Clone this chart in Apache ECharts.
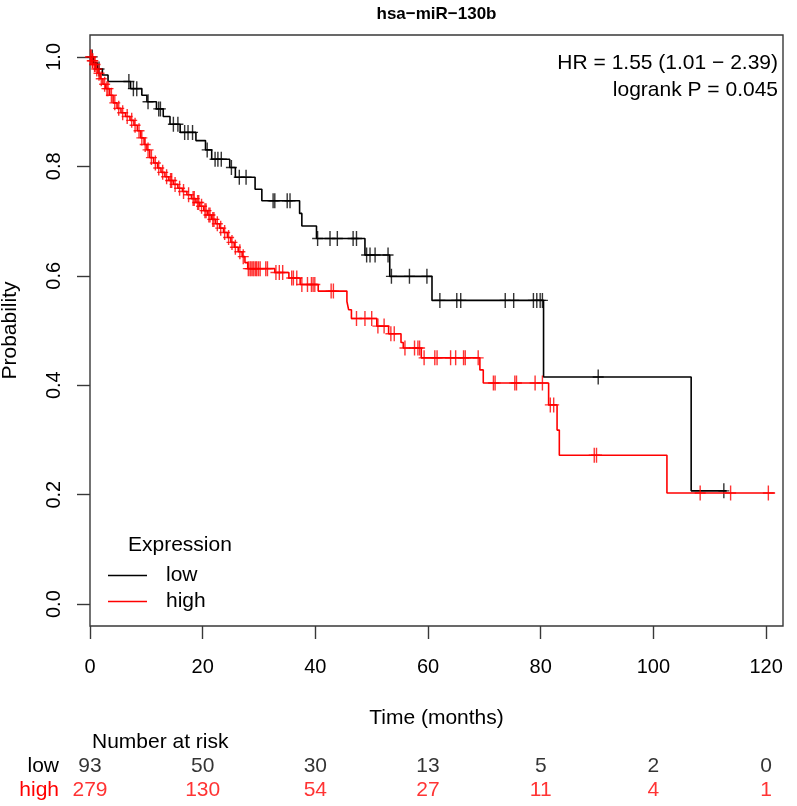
<!DOCTYPE html>
<html>
<head>
<meta charset="utf-8">
<script src="https://cdn.jsdelivr.net/npm/echarts@6/dist/echarts.min.js"></script>
<style>html,body{margin:0;padding:0;background:#fff;}#c{width:797px;height:806px;}</style>
</head>
<body>
<div id="c"></div>
<script>
// ---- data ----
const lowTimes = [0,0.6,1.3,2.2,3.2,7.2,9.2,10.1,11.8,13.0,14.2,16.0,18.8,20.5,21.6,24.8,25.8,29.3,30.5,37.2,37.6,40.2,48.8,53.2,60.7,80.5,106.7,113.0];
const lowSurv  = [1,0.989,0.978,0.967,0.955,0.942,0.930,0.918,0.905,0.891,0.877,0.862,0.847,0.830,0.813,0.798,0.780,0.758,0.737,0.714,0.691,0.668,0.638,0.599,0.555,0.415,0.207,0.207];
const lowCensorTimes = [0.4,1.6,6.9,7.7,8.3,10.3,12.2,12.5,14.8,15.6,16.8,17.4,18.2,20.8,22.2,22.7,23.3,25.1,26.5,27.7,32.5,32.8,35.0,35.5,40.4,42.6,43.9,46.7,47.3,49.1,49.7,50.6,52.9,53.5,56.7,59.8,62.1,65.1,65.8,73.7,75.2,78.7,79.3,79.9,80.3,90.2,112.5];

const highTimes = [0,0.3,0.6,1.0,1.4,1.8,2.3,2.8,3.5,4.1,4.8,5.5,6.3,7.1,7.8,8.4,9.0,9.6,10.1,10.6,11.3,12.0,12.6,13.3,14.0,14.8,15.6,16.4,17.2,18.0,18.8,19.5,20.2,20.9,21.6,22.3,23.0,23.7,24.4,25.0,25.6,26.3,27.0,27.5,28.0,32.8,35.3,37.3,40.5,45.6,45.9,46.4,50.9,53.0,55.2,55.6,58.8,69.2,69.8,81.4,82.9,83.3,102.4,121.6];
const highSurv  = [1,0.993,0.986,0.978,0.970,0.960,0.950,0.942,0.930,0.916,0.906,0.898,0.891,0.884,0.875,0.865,0.852,0.840,0.830,0.816,0.806,0.797,0.789,0.781,0.774,0.767,0.760,0.754,0.748,0.741,0.734,0.727,0.719,0.711,0.703,0.695,0.687,0.679,0.670,0.661,0.652,0.644,0.635,0.624,0.613,0.606,0.596,0.584,0.572,0.553,0.538,0.522,0.508,0.494,0.478,0.468,0.450,0.428,0.404,0.364,0.318,0.272,0.203,0.203];
const highCensorTimes = [0.1,0.2,0.4,0.5,0.8,0.9,1.2,1.6,2.0,2.6,3.0,3.2,3.8,4.4,5.1,5.8,6.6,7.4,8.0,8.7,9.2,9.8,10.3,10.9,11.6,12.2,12.9,13.6,14.3,14.5,15.1,15.9,16.6,17.5,18.3,18.5,19.1,19.3,19.8,20.4,20.6,21.1,21.3,21.8,22.0,22.6,23.2,23.9,24.6,25.2,25.8,26.6,27.2,28.1,28.4,28.6,28.9,29.1,29.4,29.6,29.9,30.2,31.2,31.5,33.0,33.6,34.2,35.8,36.1,36.7,37.6,38.6,39.3,39.6,39.9,42.8,43.2,47.3,48.8,50.0,51.1,52.2,53.4,54.0,55.9,57.6,58.2,58.5,59.3,61.2,61.6,64.0,64.9,66.3,66.6,68.9,71.6,71.9,75.4,75.7,79.0,80.3,81.7,82.3,89.5,89.9,108.3,113.7,120.4];

const xTicks = [0,20,40,60,80,100,120];
const yTicks = [0,0.2,0.4,0.6,0.8,1.0];
const riskTimes = [0,20,40,60,80,100,120];
const riskLow  = [93,50,30,13,5,2,0];
const riskHigh = [279,130,54,27,11,4,1];
const groupNames = ['low','high'];
const titleText = 'hsa\u2212miR\u2212130b';
const statLines = ['HR = 1.55 (1.01 \u2212 2.39)', 'logrank P = 0.045'];

// ---- build ----
const FONT = '"Liberation Sans", Arial, Helvetica, sans-serif';
const RED = '#ff0000', BLK = '#000000', FRAME = '#383838';
const XMAX = 123;

function zip(a, b){ return a.map((v,i)=>[v,b[i]]); }
function survAt(times, surv, t){ let s = surv[0]; for (let i=0;i<times.length;i++){ if (times[i] <= t) s = surv[i]; } return s; }
const plusPath = 'path://M4.8,0 h1.4 v6.8 h4.8 v1.4 h-4.8 v6.8 h-1.4 v-6.8 h-4.8 v-1.4 h4.8 z';

const chart = echarts.init(document.getElementById('c'), null, {renderer:'canvas'});
const option = {
  animation: false,
  backgroundColor: '#fff',
  textStyle: {fontFamily: FONT},
  grid: [
    {left: 90, right: 14, top: 35, bottom: 180, show: true, borderColor: FRAME, borderWidth: 1.4, backgroundColor: 'transparent',
     containLabel:false, outerBoundsMode:'none'},
    {left: 90, right: 14, top: 754, height: 48, containLabel:false, outerBoundsMode:'none'}
  ],
  xAxis: [
    {type:'value', gridIndex:0, min:0, max:XMAX, position:'bottom',
     axisLine:{show:false, onZero:false}, splitLine:{show:false},
     axisTick:{show:true, customValues: xTicks, length:13, lineStyle:{color:FRAME, width:1.4}},
     axisLabel:{customValues: xTicks, margin: 31, fontSize:20, color:'#000', fontFamily:FONT},
     name:'Time (months)', nameLocation:'middle', nameGap: 82,
     nameTextStyle:{fontSize:21, color:'#000', fontFamily:FONT}},
    {type:'value', gridIndex:1, min:0, max:XMAX, show:false, axisLine:{onZero:false}}
  ],
  yAxis: [
    {type:'value', gridIndex:0, min:-0.04, max:1.04, position:'left',
     axisLine:{show:false, onZero:false}, splitLine:{show:false},
     axisTick:{show:true, customValues: yTicks, length:13, lineStyle:{color:FRAME, width:1.4}},
     axisLabel:{customValues: yTicks, rotate:90, margin: 26, fontSize:20, color:'#000', fontFamily:FONT,
                formatter: v => Number(v).toFixed(1)},
     name:'Probability', nameLocation:'middle', nameRotate:90, nameGap: 69,
     nameTextStyle:{fontSize:21, color:'#000', fontFamily:FONT}},
    {type:'category', gridIndex:1, data:['high','low'],
     axisLine:{show:false, onZero:false}, axisTick:{show:false}, splitLine:{show:false},
     axisLabel:{interval:0, margin: 31, fontSize:21, fontFamily:FONT,
       formatter: v => '{' + v + '|' + v + '}',
       rich:{low:{color:BLK, fontSize:21, fontFamily:FONT}, high:{color:RED, fontSize:21, fontFamily:FONT}}}}
  ],
  legend: {
    orient:'vertical', left:108, top:565, itemGap:5, itemWidth:39, itemHeight:1.5, icon:'rect',
    data: groupNames, padding:0,
    textStyle:{fontSize:21, color:'#000', fontFamily:FONT, padding:[0,0,0,14]}
  },
  series: [
    {name: groupNames[0], type:'line', step:'end', xAxisIndex:0, yAxisIndex:0, symbol:'none',
     data: zip(lowTimes, lowSurv), lineStyle:{color:BLK, width:1.6}, itemStyle:{color:BLK}, z:2},
    {name: groupNames[0] + '_c', type:'scatter', xAxisIndex:0, yAxisIndex:0, symbol: plusPath, symbolSize:[11,15],
     data: lowCensorTimes.map(t => [t, survAt(lowTimes, lowSurv, t)]), itemStyle:{color:BLK}, z:3},
    {name: groupNames[1], type:'line', step:'end', xAxisIndex:0, yAxisIndex:0, symbol:'none',
     data: zip(highTimes, highSurv), lineStyle:{color:RED, width:1.6}, itemStyle:{color:RED}, z:4},
    {name: groupNames[1] + '_c', type:'scatter', xAxisIndex:0, yAxisIndex:0, symbol: plusPath, symbolSize:[11,15],
     data: highCensorTimes.map(t => [t, survAt(highTimes, highSurv, t)]), itemStyle:{color:RED}, z:5},
    {name:'risk', type:'scatter', xAxisIndex:1, yAxisIndex:1, symbolSize:1, itemStyle:{color:'rgba(0,0,0,0)'},
     silent:true,
     data: riskTimes.map((t,i)=>({value:[t,'low',riskLow[i]], label:{color:BLK}}))
       .concat(riskTimes.map((t,i)=>({value:[t,'high',riskHigh[i]], label:{color:RED}}))),
     label:{show:true, position:'inside', fontSize:21, fontFamily:FONT, formatter: p => String(p.value[2])}}
  ],
  graphic: [
    {type:'text', x:436.5, y:14, style:{text:titleText, textAlign:'center', textVerticalAlign:'middle', font:'bold 17px ' + FONT, fill:'#000'}},
    {type:'text', x:778, y:63, style:{text:statLines[0], textAlign:'right', textVerticalAlign:'middle', font:'21px ' + FONT, fill:'#000'}},
    {type:'text', x:778, y:90, style:{text:statLines[1], textAlign:'right', textVerticalAlign:'middle', font:'21px ' + FONT, fill:'#000'}},
    {type:'text', x:128, y:545, style:{text:'Expression', textAlign:'left', textVerticalAlign:'middle', font:'21px ' + FONT, fill:'#000'}},
    {type:'text', x:92, y:742, style:{text:'Number at risk', textAlign:'left', textVerticalAlign:'middle', font:'21px ' + FONT, fill:'#000'}}
  ]
};
chart.setOption(option);
</script>
</body>
</html>
